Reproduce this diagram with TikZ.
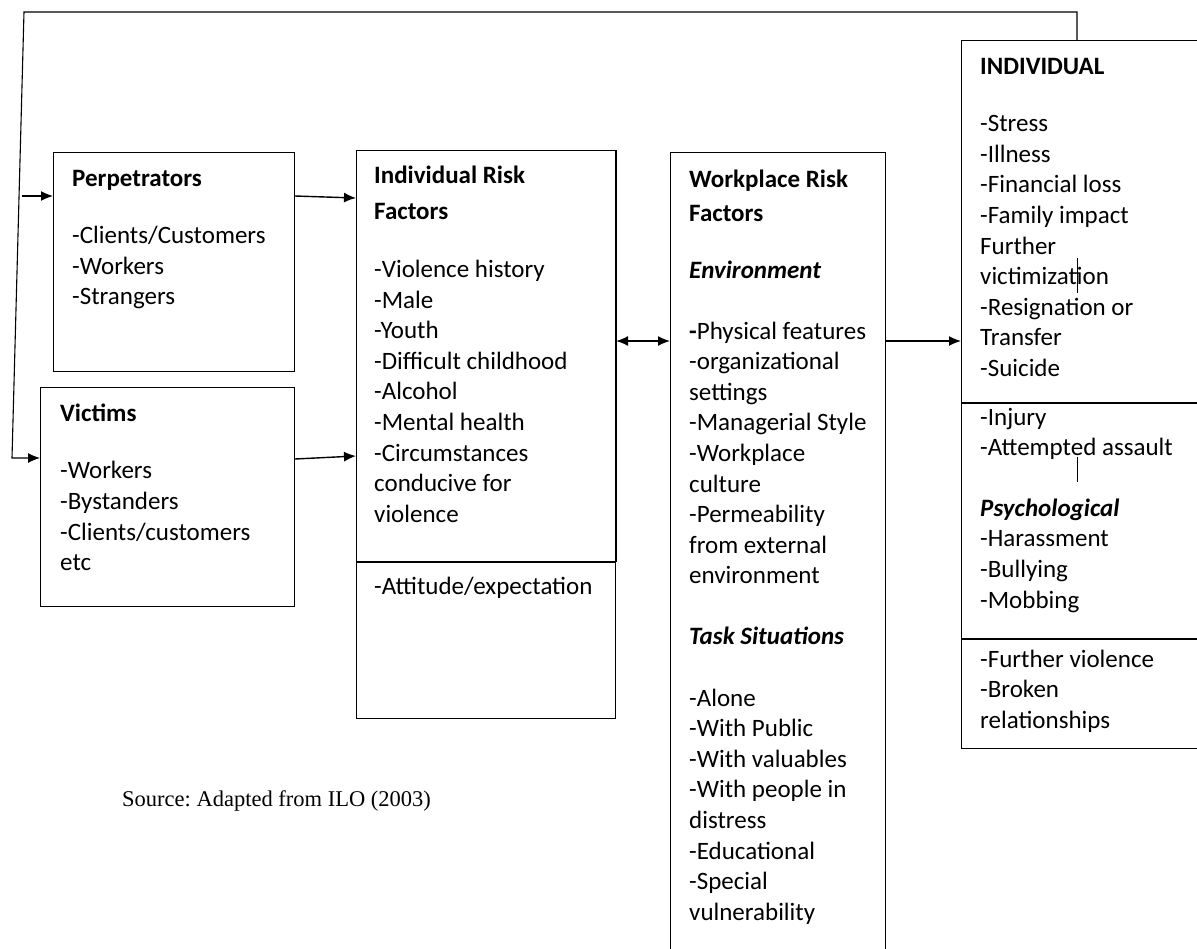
\documentclass[tikz,border=0pt]{standalone}
\usepackage{fontspec}
\setmainfont{Carlito}
\newfontfamily\srcfont{Liberation Serif}
\usetikzlibrary{arrows.meta}

\tikzset{
  box/.style={draw, line width=1.1pt, anchor=north west, inner sep=0pt},
  txt/.style={anchor=north west, yshift=14.4pt, align=left, inner sep=0pt,
    font=\fontsize{25}{30.6}\selectfont, execute at begin node=\strut},
  arr/.style={-{Latex[length=12pt,width=10pt]}, line width=1.4pt},
  dblarr/.style={{Latex[length=12pt,width=10pt]}-{Latex[length=12pt,width=10pt]}, line width=1.4pt},
}

\begin{document}
\begin{tikzpicture}[x=1pt,y=-1pt]
\useasboundingbox (0,0) rectangle (1197,948);
%
% workplace violence model, adapted from ILO

%% boxes
\node[box, minimum width=241pt, minimum height=219pt] (perp) at (53,152) {};
\node[box, minimum width=254pt, minimum height=219pt] (vic) at (40,387) {};
\node[box, minimum width=259pt, minimum height=568pt] (irf) at (356,150) {};
\node[box, minimum width=215pt, minimum height=830pt] (wrf) at (670,152) {};
\node[box, minimum width=270pt, minimum height=708pt] (ind) at (961,40) {};
%% dividers
\draw[line width=1.1pt] (irf.west |- 0,562) -- (irf.east |- 0,562);
\draw[line width=2pt] (irf.north east) -- (irf.east |- 0,562);
\draw[line width=1.1pt] (ind.west |- 0,403) -- (ind.east |- 0,403);
\draw[line width=1.1pt] (ind.west |- 0,639) -- (ind.east |- 0,639);

%% texts (coordinates give the first baseline)
\node[txt] (perptxt) at (72,184) {\textbf{Perpetrators}\\[27pt]-Clients/Customers\\-Workers\\-Strangers};
\node[txt] (victxt) at (60,418) {\textbf{Victims}\\[27pt]-Workers\\-Bystanders\\-Clients/customers\\etc};
\node[txt] (irftxt) at (374,180) {\textbf{Individual Risk}\\[6pt]\textbf{Factors}\\[27pt]-Violence history\\-Male\\-Youth\\-Difficult childhood\\-Alcohol\\-Mental health\\-Circumstances\\conducive for\\violence};
\node[txt] (irflow) at (374,587) {-Attitude/expectation};
\node[txt] (wrftxt) at (689,184) {\textbf{Workplace Risk}\\[4pt]\textbf{Factors}\\[26pt]\textbf{\textit{Environment}}\\[30pt]\textbf{-}Physical features\\-organizational\\settings\\-Managerial Style\\-Workplace\\culture\\-Permeability\\from external\\environment\\[30pt]\textbf{\textit{Task Situations}}\\[31pt]-Alone\\-With Public\\-With valuables\\-With people in\\distress\\-Educational\\-Special\\vulnerability};
\node[txt] (indtxt) at (980,72) {\textbf{INDIVIDUAL}\\[27pt]-Stress\\-Illness\\-Financial loss\\-Family impact\\Further\\victimization\\-Resignation or\\Transfer\\-Suicide};
\node[txt] (indmid) at (980,422) {-Injury\\-Attempted assault\\[30pt]\textbf{\textit{Psychological}}\\-Harassment\\-Bullying\\-Mobbing};
\node[txt] (indlow) at (980,664) {-Further violence\\-Broken\\relationships};
\node[anchor=base west, inner sep=0pt, font=\srcfont\fontsize{22.5}{27}\selectfont\frenchspacing] (src) at (122,806) {Source: Adapted from ILO (2003)};

%% arrows
\draw[arr] ([yshift=-44pt]perp.north east) -- ([yshift=-48pt]irf.north west);
\draw[arr] ([yshift=-72pt]vic.north east) -- ([yshift=-306pt]irf.north west);
\draw[dblarr] (irf.east |- 0,341) -- (wrf.west |- 0,341);
\draw[arr] (wrf.east |- 0,341) -- (ind.west |- 0,341);
%% feedback loop
\draw[arr, line width=1.1pt] (ind.north -| 1077,0) -- (1077,12) -- (24,12) -- (12,458) -- (vic.west |- 0,458);
\coordinate (fbin) at (22,196);
\draw[arr] (fbin) -- (perp.west |- fbin);
%% stray marks
\draw[line width=1pt] (1077,258) -- (1077,293);
\draw[line width=1pt] (1077,457) -- (1077,482);
\end{tikzpicture}
\end{document}
